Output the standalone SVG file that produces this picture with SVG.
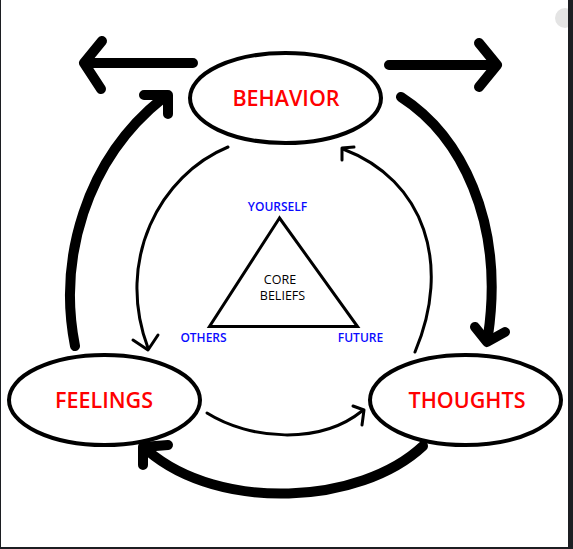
<svg xmlns="http://www.w3.org/2000/svg" width="573" height="549" viewBox="0 0 573 549">
<defs>
<style>
.node{fill:#fff;stroke:#000;stroke-width:4}
.lbl{font-family:"Open Sans","Liberation Sans",sans-serif;font-size:21.5px;font-weight:600;fill:#ff0000;text-anchor:middle}
.sub{font-family:"Open Sans","Liberation Sans",sans-serif;font-size:12px;font-weight:600;fill:#0a0aff;text-anchor:middle}
.core{font-family:"Open Sans","Liberation Sans",sans-serif;font-size:12.5px;font-weight:500;fill:#000;text-anchor:middle}
.thick{fill:none;stroke:#000;stroke-width:10;stroke-linecap:round;stroke-linejoin:round}
.thin{fill:none;stroke:#000;stroke-width:3;stroke-linecap:round;stroke-linejoin:round}
</style>
</defs>
<rect x="0" y="0" width="573" height="549" fill="#fff"/>
<g id="connectors">
<path class="thick" d="M193 63 L84 63 M102 41 L84 63 L101 89"/>
<path class="thick" d="M389 65 L497 65 M479 43 L497 65 L479 87"/>
<path class="thick" d="M75 346 C58 260 85 160 163 98"/>
<path class="thick" d="M144 95 L168 95 L168 114"/>
<path class="thick" d="M401 97 C460 135 505 220 488 336" stroke-linecap="butt"/>
<path class="thick" d="M475 327 L487 342 L505 332"/>
<path class="thick" d="M423 446 C360 505 220 512 148 451" stroke-linecap="butt"/>
<path class="thick" d="M168 445 L143 447 L143 465"/>
<path class="thin" d="M228 147 C160 175 115 260 148 348"/>
<path class="thin" d="M133 340 L148 350 L158 335"/>
<path class="thin" d="M207 413 C250 440 320 445 362 411"/>
<path class="thin" d="M353 406 L364 410 L362 425"/>
<path class="thin" d="M415 352 C452 265 425 180 343 149"/>
<path class="thin" d="M354 147 L342 148 L342 160"/>
</g>
<g id="behavior">
<ellipse class="node" cx="285.5" cy="98" rx="95.5" ry="45"/>
<text class="lbl" x="286" y="106">BEHAVIOR</text>
</g>
<g id="feelings">
<ellipse class="node" cx="104.5" cy="400" rx="95.5" ry="45"/>
<text class="lbl" x="104" y="408">FEELINGS</text>
</g>
<g id="thoughts">
<ellipse class="node" cx="465.5" cy="400" rx="95.5" ry="45"/>
<text class="lbl" x="467" y="408">THOUGHTS</text>
</g>
<g id="core-beliefs">
<polygon points="279.5,218 209.5,326.5 357.5,326.5" fill="none" stroke="#000" stroke-width="3"/>
<text class="core" x="280" y="284">CORE</text>
<text class="core" x="282.5" y="300">BELIEFS</text>
<text class="sub" x="277.5" y="211">YOURSELF</text>
<text class="sub" x="203.5" y="342">OTHERS</text>
<text class="sub" x="360.5" y="342">FUTURE</text>
</g>
<circle cx="565" cy="18" r="10" fill="#e4e4e4"/>
<rect x="568" y="0" width="5" height="549" fill="#1c1e22"/>
<rect x="0" y="547" width="573" height="2" fill="#1c1e22"/>
<rect x="0" y="0" width="1" height="549" fill="#1c1e22"/>
</svg>
